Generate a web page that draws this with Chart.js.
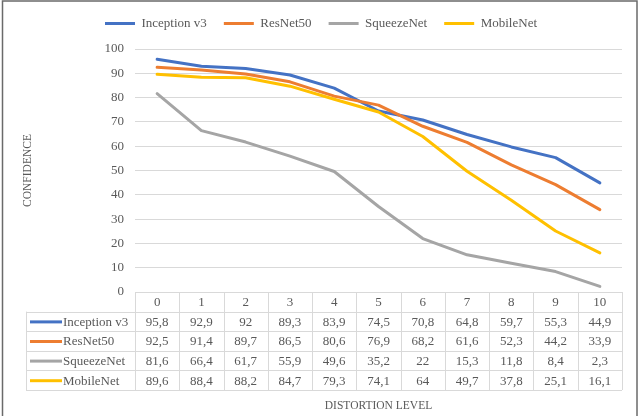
<!DOCTYPE html>
<html><head><meta charset="utf-8">
<script src="https://cdn.jsdelivr.net/npm/chart.js@4.4.1/dist/chart.umd.min.js"></script>
<style>html,body{margin:0;padding:0;background:#fff;}canvas{display:block;}</style>
</head><body>
<canvas id="c" width="642" height="416"></canvas>
<script>
const categories = ['0','1','2','3','4','5','6','7','8','9','10'];
const seriesNames = ['Inception v3','ResNet50','SqueezeNet','MobileNet'];
const inceptionV3 = [95.8,92.9,92,89.3,83.9,74.5,70.8,64.8,59.7,55.3,44.9];
const resNet50 = [92.5,91.4,89.7,86.5,80.6,76.9,68.2,61.6,52.3,44.2,33.9];
const squeezeNet = [81.6,66.4,61.7,55.9,49.6,35.2,22,15.3,11.8,8.4,2.3];
const mobileNet = [89.6,88.4,88.2,84.7,79.3,74.1,64,49.7,37.8,25.1,16.1];
const yTicks = [0,10,20,30,40,50,60,70,80,90,100];
const seriesColors = ['#4472C4','#ED7D31','#A5A5A5','#FFC000'];
const yTitle = 'CONFIDENCE';
const xTitle = 'DISTORTION LEVEL';

const FONT = '"Liberation Serif", "Times New Roman", serif';
const TEXT = '#595959';
const allSeries = [inceptionV3, resNet50, squeezeNet, mobileNet];

const datasets = allSeries.map((vals, i) => ({
  label: seriesNames[i],
  data: vals,
  borderColor: seriesColors[i],
  backgroundColor: seriesColors[i],
  borderWidth: 3,
  pointRadius: 0,
  pointHoverRadius: 0,
  tension: 0,
  fill: false,
  borderJoinStyle: 'round',
  borderCapStyle: 'round',
  order: allSeries.length - i
}));

const legendPatch = {
  id: 'legendPatch',
  beforeLayout(chart) {
    const lg = chart.legend;
    if (lg && !lg._patched) {
      const f = lg.fit;
      lg.fit = function () { f.call(this); this.height = 49; };
      lg._patched = true;
    }
  }
};

const tablePlugin = {
  id: 'dataTable',
  afterDraw(chart) {
    const ctx = chart.ctx, xs = chart.scales.x, area = chart.chartArea;
    const n = categories.length;
    const colW = (area.right - area.left) / n;
    const top = area.bottom;
    const rowH = 19.6;
    const labelLeft = 26;
    const line = (x0, y0, x1, y1) => { ctx.beginPath(); ctx.moveTo(x0, y0); ctx.lineTo(x1, y1); ctx.stroke(); };
    ctx.save();
    ctx.strokeStyle = '#D9D9D9';
    ctx.lineWidth = 1;
    for (let r = 0; r <= 5; r++) {
      const y = Math.round(top + r * rowH) + 0.5;
      line(r === 0 ? area.left : labelLeft, y, area.right, y);
    }
    for (let c = 0; c <= n; c++) {
      const xx = Math.round(area.left + c * colW) + 0.5;
      line(xx, top, xx, top + 5 * rowH);
    }
    line(labelLeft + 0.5, top + rowH, labelLeft + 0.5, top + 5 * rowH);

    ctx.font = '13px ' + FONT;
    ctx.fillStyle = TEXT;
    ctx.textAlign = 'center';
    ctx.textBaseline = 'middle';
    categories.forEach((c, i) => ctx.fillText(c, xs.getPixelForValue(i), top + rowH / 2 + 1));
    allSeries.forEach((vals, r) => {
      const yc = top + (r + 1.5) * rowH + 0.5;
      ctx.strokeStyle = seriesColors[r];
      ctx.lineWidth = 3;
      line(30, yc, 62, yc);
      ctx.textAlign = 'left';
      ctx.fillStyle = TEXT;
      ctx.fillText(seriesNames[r], 63, yc + 0.5);
      ctx.textAlign = 'center';
      vals.forEach((v, i) => ctx.fillText(String(v).replace('.', ','), xs.getPixelForValue(i), yc + 0.5));
    });
    // outer frame
    ctx.strokeStyle = '#6a6a6a';
    ctx.lineWidth = 1.5;
    ctx.strokeRect(2.5, 1, 634.5, 430);
    ctx.restore();
  }
};

new Chart(document.getElementById('c'), {
  type: 'line',
  data: { labels: categories, datasets },
  options: {
    responsive: false,
    animation: false,
    devicePixelRatio: 1,
    layout: { padding: { left: 20, right: 20, top: 0, bottom: 0 } },
    plugins: {
      legend: {
        position: 'top',
        labels: {
          usePointStyle: true,
          pointStyle: 'line',
          pointStyleWidth: 30,
          padding: 17,
          color: TEXT,
          font: { family: FONT, size: 13 },
          sort: (a, b) => a.datasetIndex - b.datasetIndex
        }
      },
      tooltip: { enabled: false }
    },
    scales: {
      x: {
        offset: true,
        grid: { display: false },
        border: { display: false },
        ticks: { display: false },
        title: { display: true, text: xTitle, color: TEXT, font: { family: FONT, size: 11.5 }, padding: { top: 0, bottom: 3 } },
        afterFit(s) { s.height = 124; }
      },
      y: {
        min: 0, max: 100,
        afterBuildTicks(s) { s.ticks = yTicks.map(v => ({ value: v })); },
        grid: { color: '#D9D9D9', drawTicks: false, lineWidth: 1 },
        border: { display: false },
        ticks: { color: TEXT, font: { family: FONT, size: 13 }, padding: 11 },
        title: { display: true, text: yTitle, color: TEXT, font: { family: FONT, size: 11.5 }, padding: { top: 1, bottom: 0 } },
        afterFit(s) { s.width = 115; }
      }
    }
  },
  plugins: [legendPatch, tablePlugin]
});
</script>
</body></html>
